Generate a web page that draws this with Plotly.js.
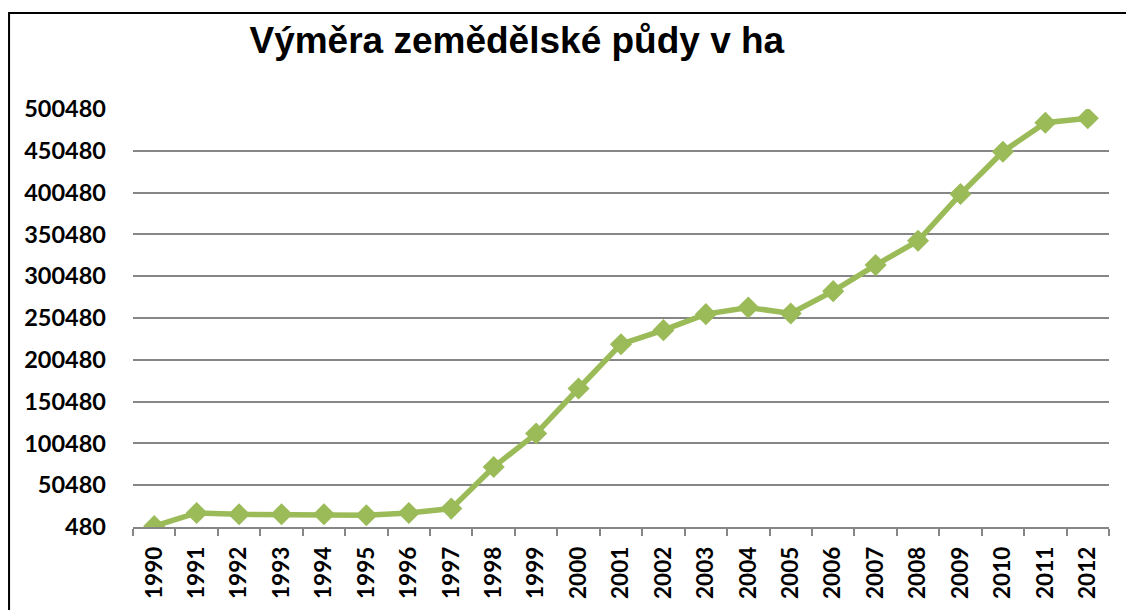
<!DOCTYPE html>
<html>
<head>
<meta charset="utf-8">
<script src="https://cdn.plot.ly/plotly-3.0.1.min.js"></script>
<style>
html,body{margin:0;padding:0;background:#fff;}
#chart{width:1126px;height:610px;}
</style>
</head>
<body>
<div id="chart"></div>
<script>
const years = ["1990","1991","1992","1993","1994","1995","1996","1997","1998","1999","2000","2001","2002","2003","2004","2005","2006","2007","2008","2009","2010","2011","2012"];
const area = [1500, 17240, 15680, 15680, 15680, 14480, 17240, 22500, 72300, 112280, 166150, 219170, 235930, 255080, 263100, 255920, 282610, 313730, 342820, 398720, 449360, 484070, 489330];
const yTicks = [480, 50480, 100480, 150480, 200480, 250480, 300480, 350480, 400480, 450480, 500480];
const titleText = "Výměra zemědělské půdy v ha";

const trace = {
  x: years,
  y: area,
  type: "scatter",
  mode: "lines+markers",
  line: {color: "#9BBB59", width: 5.5},
  marker: {symbol: "diamond", size: 17, color: "#9BBB59"},
  hoverinfo: "x+y",
  showlegend: false
};

const layout = {
  width: 1126,
  height: 610,
  margin: {l: 133, r: 17, t: 109, b: 83},
  paper_bgcolor: "#ffffff",
  plot_bgcolor: "#ffffff",
  title: {
    text: "<b>" + titleText + "</b>",
    font: {family: "Liberation Sans, Arial, sans-serif", size: 37, color: "#000"},
    x: 0.459, xref: "container", xanchor: "center",
    y: 0.934, yref: "container", yanchor: "middle"
  },
  xaxis: {
    type: "category",
    tickson: "boundaries",
    ticks: "outside",
    ticklen: 7,
    tickcolor: "#868686",
    tickwidth: 1.5,
    showline: true,
    linecolor: "#868686",
    linewidth: 1.5,
    showgrid: false,
    tickangle: -90,
    ticklabelstandoff: 9,
    tickfont: {family: "Lato, Carlito, sans-serif", size: 22.5, color: "#000", weight: "bold"},
    range: [-0.5, years.length - 0.5],
    fixedrange: true
  },
  yaxis: {
    range: [480, 500480],
    tickvals: yTicks,
    ticktext: yTicks.map(String),
    showgrid: true,
    gridcolor: "#868686",
    gridwidth: 2,
    zeroline: false,
    showline: false,
    ticks: "",
    ticklabelstandoff: 26,
    tickfont: {family: "Lato, Carlito, sans-serif", size: 23.5, color: "#000", weight: "bold"},
    fixedrange: true
  },
  shapes: [{
    type: "rect", xref: "paper", yref: "paper",
    x0: -0.127, x1: 1.1, y0: -0.4, y1: 1.2298,
    line: {color: "#000", width: 2}, fillcolor: "rgba(0,0,0,0)", layer: "above"
  }]
};

Plotly.newPlot("chart", [trace], layout, {displayModeBar: false, staticPlot: false});
</script>
</body>
</html>
